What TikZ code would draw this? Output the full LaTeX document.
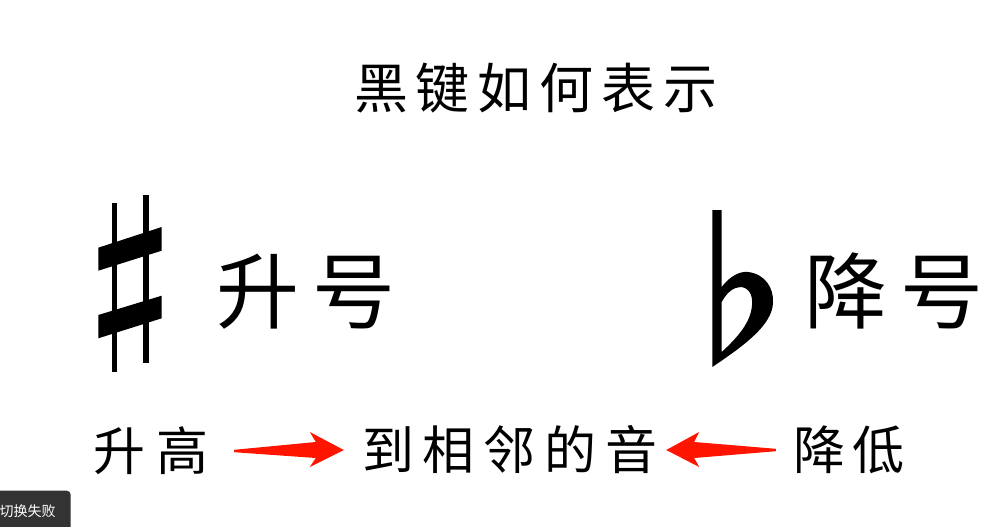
\documentclass[tikz,border=0pt]{standalone}
\usepackage{fontspec}
\newfontfamily\cjk{Noto Sans CJK SC}
\usetikzlibrary{calc}
\definecolor{arrowred}{RGB}{255,20,0}
\definecolor{tipgray}{RGB}{51,51,51}
\begin{document}
\begin{tikzpicture}[x=1pt,y=-1pt,
  title/.style={inner sep=0pt,font=\cjk\fontsize{54}{54}\selectfont},
  bigtext/.style={inner sep=0pt,font=\cjk\fontsize{83}{83}\selectfont},
  rowtext/.style={inner sep=0pt,font=\cjk\fontsize{52}{52}\selectfont},
  symbolfill/.style={fill=black},
  redarrow/.style={fill=arrowred},
  tipbox/.style={fill=tipgray,rounded corners=4pt},
  tiptext/.style={inner sep=0pt,text=white,font=\cjk\fontsize{14}{14}\selectfont}]
\useasboundingbox (0,0) rectangle (1007,527);
\fill[white] (0,0) rectangle (1007,527);

% title
\node[title] (title) at (536,88) {黑\hspace{8pt}键\hspace{8pt}如\hspace{8pt}何\hspace{8pt}表\hspace{8pt}示};

% sharp sign
\fill[symbolfill] (111.7,203) rectangle (117.3,372);
\fill[symbolfill] (142.7,195) rectangle (149,363);
\fill[symbolfill] (98.3,247.7) -- (161.7,227) -- (161.7,250.7) -- (98.3,270.7) -- cycle;
\fill[symbolfill] (98.3,315) -- (161.7,295.7) -- (161.7,318.3) -- (98.3,338.3) -- cycle;
\node[bigtext] (sharp) at (306,292) {升\hspace{13pt}号};

% flat sign
\fill[symbolfill,even odd rule]
  (712.3,210) -- (721.7,210) -- (721.7,287)
  .. controls (730,276) and (740,271) .. (748,272)
  .. controls (765,274) and (774,288) .. (773,303)
  .. controls (772,325) and (745,345) .. (712.3,367) -- cycle
  (721.7,302) .. controls (727,292) and (734,287) .. (741,287)
  .. controls (749,288) and (753,295) .. (752,305)
  .. controls (751,322) and (738,337) .. (721.7,352) -- cycle;
\node[bigtext] (flat) at (894,291) {降\hspace{13pt}号};

% bottom row
\node[rowtext] (raise) at (151,451) {升\hspace{12pt}高};
\node[rowtext] (adjacent) at (510,450) {到\hspace{9pt}相\hspace{9pt}邻\hspace{9pt}的\hspace{9pt}音};
\node[rowtext] (lower) at (849,450) {降\hspace{8pt}低};

\coordinate (ra) at ($(raise.east)+(25,0)$);
\coordinate (rb) at ($(adjacent.west)+(-18,0)$);
\fill[redarrow] ($(ra)+(0,-1.2)$) -- ($(rb)+(-28,-8)$) -- ($(rb)+(-34,-18)$) -- (rb)
  -- ($(rb)+(-34,17)$) -- ($(rb)+(-28,8)$) -- ($(ra)+(0,1.2)$) -- cycle;

\coordinate (la) at ($(lower.west)+(-17,0)$);
\coordinate (lb) at ($(adjacent.east)+(8,0)$);
\fill[redarrow] ($(la)+(0,-1.2)$) -- ($(lb)+(28,-8)$) -- ($(lb)+(33,-18)$) -- (lb)
  -- ($(lb)+(33,17)$) -- ($(lb)+(28,8)$) -- ($(la)+(0,1.2)$) -- cycle;

% status box
\fill[tipbox] (-6,490.7) rectangle (70.7,535);
\node[tiptext] (status) at (27.5,511) {切换失败};
\end{tikzpicture}
\end{document}
